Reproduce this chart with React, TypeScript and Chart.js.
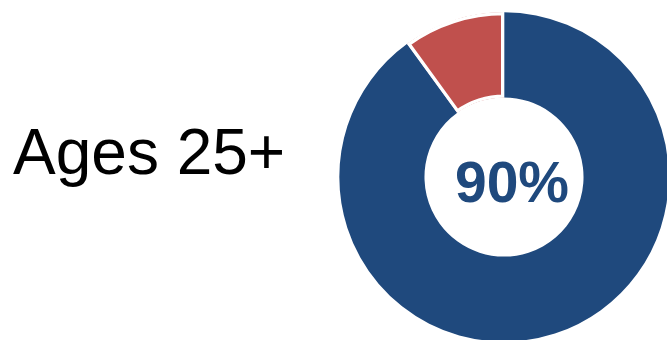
import React, { useEffect, useRef } from "react";
import { Chart, registerables } from "chart.js";

Chart.register(...registerables);

const labels = ["Yes", "No"];
const values = [90, 10];
const colors = ["#1F497D", "#C0504D"];
const centerLabel = "90%";
const sideLabel = "Ages 25+";

const centerTextPlugin = {
  id: "centerText",
  afterDraw(chart: any) {
    const meta = chart.getDatasetMeta(0);
    const arc = meta.data[0];
    if (!arc) return;
    const { x, y } = arc.getProps(["x", "y"], true);
    const ctx = chart.ctx;
    ctx.save();
    ctx.fillStyle = "#1F497D";
    ctx.font = "bold 57px 'Liberation Sans', Arial, sans-serif";
    ctx.textAlign = "center";
    ctx.textBaseline = "alphabetic";
    ctx.fillText(centerLabel, x + 8, y + 25);
    ctx.restore();
  },
};

export default function App() {
  const ref = useRef<HTMLCanvasElement | null>(null);
  useEffect(() => {
    if (!ref.current) return;
    const chart = new Chart(ref.current, {
      type: "doughnut",
      data: {
        labels,
        datasets: [
          {
            data: values,
            backgroundColor: colors,
            borderColor: "#ffffff",
            borderWidth: [0, 3],
            borderAlign: "inner",
          } as any,
        ],
      },
      options: {
        animation: false,
        responsive: false,
        maintainAspectRatio: false,
        cutout: "48%",
        layout: { padding: 0 },
        plugins: {
          legend: { display: false },
          tooltip: { enabled: false },
          title: { display: false },
        },
      },
      plugins: [centerTextPlugin],
    });
    return () => chart.destroy();
  }, []);

  return (
    <div
      style={{
        position: "fixed",
        left: 0,
        top: 0,
        width: 667,
        height: 340,
        overflow: "hidden",
        background: "#ffffff",
      }}
    >
      <div
        style={{
          position: "absolute",
          left: 13,
          top: 120,
          fontFamily: "'Liberation Sans', Arial, sans-serif",
          fontSize: 64,
          lineHeight: "64px",
          color: "#000000",
          whiteSpace: "nowrap",
        }}
      >
        {sideLabel}
      </div>
      <canvas
        ref={ref}
        width={330}
        height={330}
        style={{ position: "absolute", left: 339, top: 12, width: 330, height: 330 }}
      />
    </div>
  );
}
